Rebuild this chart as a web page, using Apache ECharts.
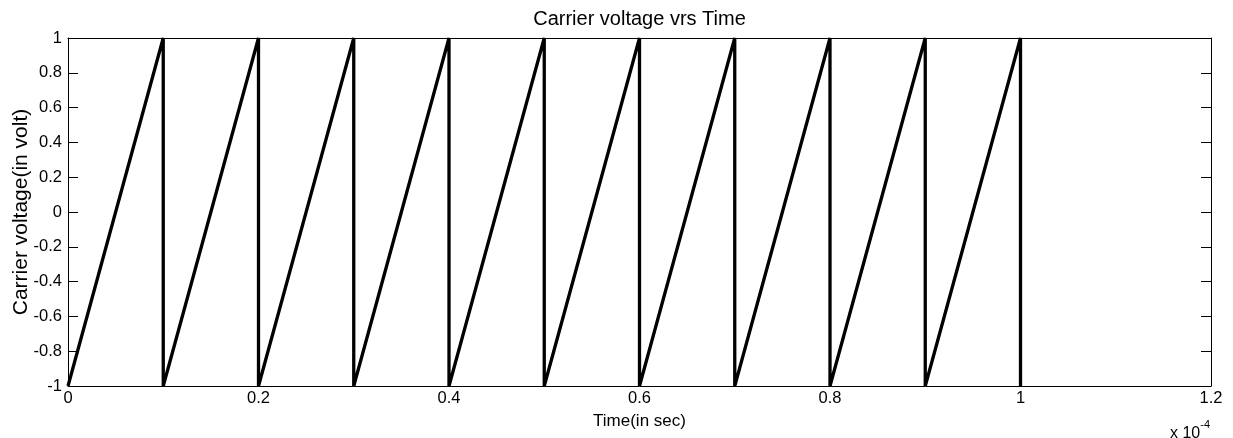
<!DOCTYPE html>
<html><head><meta charset="utf-8">
<script src="https://cdn.jsdelivr.net/npm/echarts@6/dist/echarts.min.js"></script>
<style>html,body{margin:0;padding:0;background:#fff}#c{width:1233px;height:438px}</style>
</head><body><div id="c"></div>
<script>
// Time samples (seconds) and carrier voltage (volts)
const timeSec = [0, 1e-5, 1e-5, 2e-5, 2e-5, 3e-5, 3e-5, 4e-5, 4e-5, 5e-5, 5e-5,
  6e-5, 6e-5, 7e-5, 7e-5, 8e-5, 8e-5, 9e-5, 9e-5, 10e-5, 10e-5];
const voltage = [-1, 1, -1, 1, -1, 1, -1, 1, -1, 1, -1,
  1, -1, 1, -1, 1, -1, 1, -1, 1, -1];
const xTickScale = 1e-4;
const titleText = 'Carrier voltage vrs Time';
const xName = 'Time(in sec)';
const yName = 'Carrier voltage(in volt)';

const font = 'Liberation Sans, Arial, sans-serif';
const pts = timeSec.map((t, i) => [t, voltage[i]]);
const chart = echarts.init(document.getElementById('c'), null, {renderer: 'canvas'});
const axisLine = {show: true, onZero: false, lineStyle: {color: '#000', width: 1}};
const tick = {show: true, inside: true, length: 10, lineStyle: {color: '#000', width: 1}};
const gridL = 68, gridR = 22;
chart.setOption({
  animation: false,
  backgroundColor: '#fff',
  grid: {left: gridL, right: gridR, top: 38, bottom: 52, containLabel: false, outerBoundsMode: 'none'},
  xAxis: [{
    type: 'value', min: 0, max: 1.2e-4, interval: 0.2e-4, position: 'bottom',
    axisLine, axisTick: tick, splitLine: {show: false},
    axisLabel: {fontFamily: font, fontSize: 16.5, color: '#000', margin: 4,
      formatter: v => String(Math.round(v / xTickScale * 10) / 10)},
    name: xName, nameLocation: 'middle', nameGap: 27, nameMoveOverlap: false,
    nameTextStyle: {fontFamily: font, fontSize: 17, color: '#000', verticalAlign: 'top'}
  }, {
    type: 'value', min: 0, max: 1.2e-4, interval: 0.2e-4, position: 'top',
    axisLine, axisTick: tick, axisLabel: {show: false}, splitLine: {show: false}
  }],
  yAxis: [{
    type: 'value', min: -1, max: 1, interval: 0.2, position: 'left',
    axisLine, axisTick: tick, splitLine: {show: false},
    axisLabel: {fontFamily: font, fontSize: 16.5, color: '#000', margin: 6,
      formatter: v => String(Math.round(v * 10) / 10)},
    name: yName, nameLocation: 'middle', nameGap: 36, nameMoveOverlap: false,
    nameTextStyle: {fontFamily: font, fontSize: 21, color: '#000'}
  }, {
    type: 'value', min: -1, max: 1, interval: 0.2, position: 'right',
    axisLine, axisTick: tick, axisLabel: {show: false}, splitLine: {show: false}
  }],
  graphic: [{
    type: 'text', x: (gridL + 1233 - gridR) / 2, y: 19,
    style: {text: titleText, fontFamily: font, fontSize: 20, fill: '#000',
      textAlign: 'center', textVerticalAlign: 'middle'}
  }, {
    type: 'text', right: 23, top: 419,
    style: {
      text: '{b|x 10}{s|-4}',
      rich: {
        b: {fontFamily: font, fontSize: 16, fill: '#000', verticalAlign: 'bottom'},
        s: {fontFamily: font, fontSize: 11, fill: '#000', verticalAlign: 'top', padding: [0, 0, 12, 0]}
      }
    }
  }],
  series: [{
    type: 'line', data: pts, showSymbol: false, symbol: 'none',
    lineStyle: {color: '#000', width: 3.3}, clip: true
  }]
});
</script></body></html>
